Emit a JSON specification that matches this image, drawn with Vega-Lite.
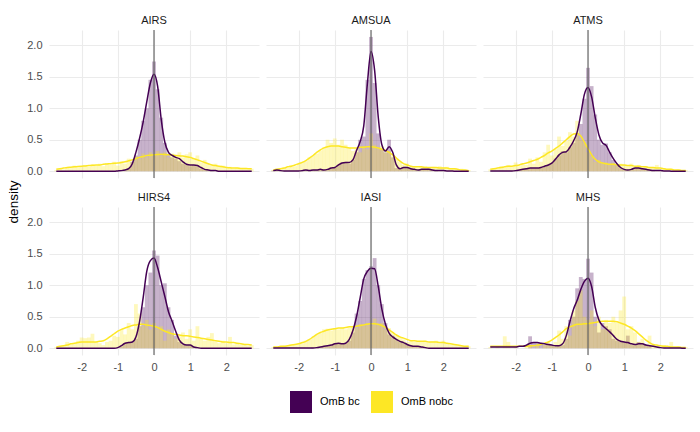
{
  "$schema": "https://vega.github.io/schema/vega-lite/v6.json",
  "padding": {"left": 7, "top": 15, "right": 5, "bottom": 5},
  "title": {"text": "density", "orient": "left", "anchor": "middle", "fontSize": 13.5, "fontWeight": "normal", "color": "#000000", "offset": 6, "dx": 12},
  "data": {"values": [
{"p":"AIRS","x":-2.7,"h1":0,"h2":0.02,"d1":0,"d2":0.03},
{"p":"AIRS","x":-2.6,"h1":0,"h2":0.04,"d1":0,"d2":0.04},
{"p":"AIRS","x":-2.5,"h1":0,"h2":0.03,"d1":0,"d2":0.05},
{"p":"AIRS","x":-2.4,"h1":0,"h2":0.06,"d1":0,"d2":0.06},
{"p":"AIRS","x":-2.3,"h1":0,"h2":0.05,"d1":0,"d2":0.065},
{"p":"AIRS","x":-2.2,"h1":0,"h2":0.09,"d1":0,"d2":0.07},
{"p":"AIRS","x":-2.1,"h1":0,"h2":0.06,"d1":0,"d2":0.075},
{"p":"AIRS","x":-2.0,"h1":0,"h2":0.08,"d1":0,"d2":0.08},
{"p":"AIRS","x":-1.9,"h1":0,"h2":0.1,"d1":0,"d2":0.085},
{"p":"AIRS","x":-1.8,"h1":0,"h2":0.07,"d1":0,"d2":0.09},
{"p":"AIRS","x":-1.7,"h1":0,"h2":0.11,"d1":0,"d2":0.095},
{"p":"AIRS","x":-1.6,"h1":0,"h2":0.09,"d1":0,"d2":0.1},
{"p":"AIRS","x":-1.5,"h1":0,"h2":0.12,"d1":0,"d2":0.1},
{"p":"AIRS","x":-1.4,"h1":0,"h2":0.08,"d1":0,"d2":0.11},
{"p":"AIRS","x":-1.3,"h1":0,"h2":0.13,"d1":0,"d2":0.115},
{"p":"AIRS","x":-1.2,"h1":0,"h2":0.1,"d1":0,"d2":0.12},
{"p":"AIRS","x":-1.1,"h1":0,"h2":0.15,"d1":0,"d2":0.125},
{"p":"AIRS","x":-1.0,"h1":0,"h2":0.09,"d1":0.005,"d2":0.13},
{"p":"AIRS","x":-0.9,"h1":0,"h2":0.16,"d1":0.01,"d2":0.14},
{"p":"AIRS","x":-0.8,"h1":0.01,"h2":0.12,"d1":0.02,"d2":0.15},
{"p":"AIRS","x":-0.7,"h1":0.05,"h2":0.2,"d1":0.04,"d2":0.165},
{"p":"AIRS","x":-0.6,"h1":0.15,"h2":0.15,"d1":0.12,"d2":0.18},
{"p":"AIRS","x":-0.5,"h1":0.25,"h2":0.24,"d1":0.3,"d2":0.2},
{"p":"AIRS","x":-0.4,"h1":0.5,"h2":0.2,"d1":0.52,"d2":0.22},
{"p":"AIRS","x":-0.3,"h1":0.8,"h2":0.28,"d1":0.78,"d2":0.235},
{"p":"AIRS","x":-0.2,"h1":1.0,"h2":0.22,"d1":1.1,"d2":0.25},
{"p":"AIRS","x":-0.1,"h1":1.45,"h2":0.3,"d1":1.4,"d2":0.255},
{"p":"AIRS","x":0.0,"h1":1.74,"h2":0.24,"d1":1.54,"d2":0.26},
{"p":"AIRS","x":0.1,"h1":1.3,"h2":0.32,"d1":1.35,"d2":0.265},
{"p":"AIRS","x":0.2,"h1":0.85,"h2":0.25,"d1":0.82,"d2":0.27},
{"p":"AIRS","x":0.3,"h1":0.45,"h2":0.3,"d1":0.46,"d2":0.265},
{"p":"AIRS","x":0.4,"h1":0.28,"h2":0.22,"d1":0.3,"d2":0.26},
{"p":"AIRS","x":0.5,"h1":0.22,"h2":0.28,"d1":0.25,"d2":0.255},
{"p":"AIRS","x":0.6,"h1":0.2,"h2":0.24,"d1":0.22,"d2":0.25},
{"p":"AIRS","x":0.7,"h1":0.16,"h2":0.3,"d1":0.2,"d2":0.245},
{"p":"AIRS","x":0.8,"h1":0.12,"h2":0.22,"d1":0.15,"d2":0.24},
{"p":"AIRS","x":0.9,"h1":0.1,"h2":0.27,"d1":0.11,"d2":0.23},
{"p":"AIRS","x":1.0,"h1":0.08,"h2":0.3,"d1":0.1,"d2":0.22},
{"p":"AIRS","x":1.1,"h1":0.1,"h2":0.2,"d1":0.1,"d2":0.2},
{"p":"AIRS","x":1.2,"h1":0.08,"h2":0.25,"d1":0.09,"d2":0.18},
{"p":"AIRS","x":1.3,"h1":0.04,"h2":0.14,"d1":0.06,"d2":0.16},
{"p":"AIRS","x":1.4,"h1":0.02,"h2":0.18,"d1":0.03,"d2":0.14},
{"p":"AIRS","x":1.5,"h1":0.02,"h2":0.12,"d1":0.02,"d2":0.12},
{"p":"AIRS","x":1.6,"h1":0.01,"h2":0.1,"d1":0.01,"d2":0.1},
{"p":"AIRS","x":1.7,"h1":0,"h2":0.12,"d1":0.01,"d2":0.09},
{"p":"AIRS","x":1.8,"h1":0,"h2":0.07,"d1":0,"d2":0.08},
{"p":"AIRS","x":1.9,"h1":0,"h2":0.09,"d1":0,"d2":0.07},
{"p":"AIRS","x":2.0,"h1":0,"h2":0.05,"d1":0,"d2":0.06},
{"p":"AIRS","x":2.1,"h1":0,"h2":0.07,"d1":0,"d2":0.055},
{"p":"AIRS","x":2.2,"h1":0,"h2":0.04,"d1":0,"d2":0.05},
{"p":"AIRS","x":2.3,"h1":0,"h2":0.06,"d1":0,"d2":0.05},
{"p":"AIRS","x":2.4,"h1":0,"h2":0.04,"d1":0,"d2":0.045},
{"p":"AIRS","x":2.5,"h1":0,"h2":0.05,"d1":0,"d2":0.045},
{"p":"AIRS","x":2.6,"h1":0,"h2":0.03,"d1":0,"d2":0.04},
{"p":"AIRS","x":2.7,"h1":0,"h2":0.04,"d1":0,"d2":0.04},
{"p":"AMSUA","x":-2.7,"h1":0.01,"h2":0.02,"d1":0.01,"d2":0.02},
{"p":"AMSUA","x":-2.6,"h1":0.02,"h2":0.04,"d1":0.02,"d2":0.03},
{"p":"AMSUA","x":-2.5,"h1":0,"h2":0.03,"d1":0.01,"d2":0.04},
{"p":"AMSUA","x":-2.4,"h1":0,"h2":0.06,"d1":0.005,"d2":0.05},
{"p":"AMSUA","x":-2.3,"h1":0,"h2":0.05,"d1":0.005,"d2":0.07},
{"p":"AMSUA","x":-2.2,"h1":0,"h2":0.1,"d1":0.005,"d2":0.08},
{"p":"AMSUA","x":-2.1,"h1":0,"h2":0.08,"d1":0.005,"d2":0.1},
{"p":"AMSUA","x":-2.0,"h1":0,"h2":0.12,"d1":0.005,"d2":0.12},
{"p":"AMSUA","x":-1.9,"h1":0.01,"h2":0.15,"d1":0.01,"d2":0.14},
{"p":"AMSUA","x":-1.8,"h1":0.02,"h2":0.16,"d1":0.02,"d2":0.17},
{"p":"AMSUA","x":-1.7,"h1":0.01,"h2":0.22,"d1":0.01,"d2":0.21},
{"p":"AMSUA","x":-1.6,"h1":0.02,"h2":0.25,"d1":0.02,"d2":0.25},
{"p":"AMSUA","x":-1.5,"h1":0.02,"h2":0.28,"d1":0.02,"d2":0.3},
{"p":"AMSUA","x":-1.4,"h1":0.03,"h2":0.33,"d1":0.03,"d2":0.34},
{"p":"AMSUA","x":-1.3,"h1":0.02,"h2":0.38,"d1":0.02,"d2":0.37},
{"p":"AMSUA","x":-1.2,"h1":0.03,"h2":0.5,"d1":0.03,"d2":0.39},
{"p":"AMSUA","x":-1.1,"h1":0.06,"h2":0.45,"d1":0.05,"d2":0.4},
{"p":"AMSUA","x":-1.0,"h1":0.06,"h2":0.52,"d1":0.06,"d2":0.4},
{"p":"AMSUA","x":-0.9,"h1":0.1,"h2":0.42,"d1":0.1,"d2":0.4},
{"p":"AMSUA","x":-0.8,"h1":0.14,"h2":0.5,"d1":0.13,"d2":0.39},
{"p":"AMSUA","x":-0.7,"h1":0.15,"h2":0.42,"d1":0.14,"d2":0.38},
{"p":"AMSUA","x":-0.6,"h1":0.12,"h2":0.38,"d1":0.14,"d2":0.37},
{"p":"AMSUA","x":-0.5,"h1":0.18,"h2":0.32,"d1":0.18,"d2":0.37},
{"p":"AMSUA","x":-0.4,"h1":0.3,"h2":0.36,"d1":0.33,"d2":0.37},
{"p":"AMSUA","x":-0.3,"h1":0.5,"h2":0.3,"d1":0.47,"d2":0.38},
{"p":"AMSUA","x":-0.2,"h1":0.55,"h2":0.4,"d1":0.72,"d2":0.38},
{"p":"AMSUA","x":-0.1,"h1":1.45,"h2":0.35,"d1":1.39,"d2":0.39},
{"p":"AMSUA","x":0.0,"h1":2.13,"h2":0.6,"d1":1.9,"d2":0.39},
{"p":"AMSUA","x":0.1,"h1":1.4,"h2":0.42,"d1":1.6,"d2":0.38},
{"p":"AMSUA","x":0.2,"h1":0.6,"h2":0.35,"d1":0.86,"d2":0.37},
{"p":"AMSUA","x":0.3,"h1":0.35,"h2":0.4,"d1":0.42,"d2":0.35},
{"p":"AMSUA","x":0.4,"h1":0.3,"h2":0.3,"d1":0.32,"d2":0.33},
{"p":"AMSUA","x":0.5,"h1":0.5,"h2":0.32,"d1":0.39,"d2":0.3},
{"p":"AMSUA","x":0.6,"h1":0.22,"h2":0.25,"d1":0.3,"d2":0.26},
{"p":"AMSUA","x":0.7,"h1":0.05,"h2":0.2,"d1":0.1,"d2":0.21},
{"p":"AMSUA","x":0.8,"h1":0.04,"h2":0.15,"d1":0.04,"d2":0.16},
{"p":"AMSUA","x":0.9,"h1":0.07,"h2":0.1,"d1":0.06,"d2":0.12},
{"p":"AMSUA","x":1.0,"h1":0.06,"h2":0.12,"d1":0.06,"d2":0.1},
{"p":"AMSUA","x":1.1,"h1":0.04,"h2":0.07,"d1":0.04,"d2":0.08},
{"p":"AMSUA","x":1.2,"h1":0.02,"h2":0.08,"d1":0.03,"d2":0.07},
{"p":"AMSUA","x":1.3,"h1":0.02,"h2":0.06,"d1":0.02,"d2":0.07},
{"p":"AMSUA","x":1.4,"h1":0.03,"h2":0.07,"d1":0.03,"d2":0.07},
{"p":"AMSUA","x":1.5,"h1":0.03,"h2":0.08,"d1":0.03,"d2":0.06},
{"p":"AMSUA","x":1.6,"h1":0.04,"h2":0.05,"d1":0.03,"d2":0.06},
{"p":"AMSUA","x":1.7,"h1":0.02,"h2":0.07,"d1":0.02,"d2":0.06},
{"p":"AMSUA","x":1.8,"h1":0.01,"h2":0.06,"d1":0.01,"d2":0.06},
{"p":"AMSUA","x":1.9,"h1":0,"h2":0.08,"d1":0.01,"d2":0.05},
{"p":"AMSUA","x":2.0,"h1":0,"h2":0.06,"d1":0.01,"d2":0.05},
{"p":"AMSUA","x":2.1,"h1":0,"h2":0.07,"d1":0.005,"d2":0.05},
{"p":"AMSUA","x":2.2,"h1":0,"h2":0.04,"d1":0.005,"d2":0.04},
{"p":"AMSUA","x":2.3,"h1":0,"h2":0.05,"d1":0,"d2":0.04},
{"p":"AMSUA","x":2.4,"h1":0,"h2":0.03,"d1":0,"d2":0.03},
{"p":"AMSUA","x":2.5,"h1":0,"h2":0.04,"d1":0,"d2":0.02},
{"p":"AMSUA","x":2.6,"h1":0,"h2":0.02,"d1":0,"d2":0.02},
{"p":"AMSUA","x":2.7,"h1":0,"h2":0.02,"d1":0,"d2":0.01},
{"p":"ATMS","x":-2.7,"h1":0,"h2":0.03,"d1":0.005,"d2":0.03},
{"p":"ATMS","x":-2.6,"h1":0,"h2":0.05,"d1":0.005,"d2":0.04},
{"p":"ATMS","x":-2.5,"h1":0,"h2":0.04,"d1":0.005,"d2":0.05},
{"p":"ATMS","x":-2.4,"h1":0,"h2":0.08,"d1":0.005,"d2":0.06},
{"p":"ATMS","x":-2.3,"h1":0,"h2":0.06,"d1":0.005,"d2":0.07},
{"p":"ATMS","x":-2.2,"h1":0,"h2":0.1,"d1":0.005,"d2":0.08},
{"p":"ATMS","x":-2.1,"h1":0,"h2":0.07,"d1":0.005,"d2":0.08},
{"p":"ATMS","x":-2.0,"h1":0.01,"h2":0.14,"d1":0.01,"d2":0.09},
{"p":"ATMS","x":-1.9,"h1":0.02,"h2":0.08,"d1":0.02,"d2":0.1},
{"p":"ATMS","x":-1.8,"h1":0.03,"h2":0.12,"d1":0.03,"d2":0.12},
{"p":"ATMS","x":-1.7,"h1":0.04,"h2":0.1,"d1":0.04,"d2":0.13},
{"p":"ATMS","x":-1.6,"h1":0.05,"h2":0.2,"d1":0.05,"d2":0.15},
{"p":"ATMS","x":-1.5,"h1":0.05,"h2":0.12,"d1":0.05,"d2":0.17},
{"p":"ATMS","x":-1.4,"h1":0.05,"h2":0.22,"d1":0.05,"d2":0.19},
{"p":"ATMS","x":-1.3,"h1":0.06,"h2":0.15,"d1":0.06,"d2":0.22},
{"p":"ATMS","x":-1.2,"h1":0.08,"h2":0.3,"d1":0.08,"d2":0.25},
{"p":"ATMS","x":-1.1,"h1":0.1,"h2":0.42,"d1":0.1,"d2":0.29},
{"p":"ATMS","x":-1.0,"h1":0.13,"h2":0.25,"d1":0.13,"d2":0.32},
{"p":"ATMS","x":-0.9,"h1":0.2,"h2":0.35,"d1":0.19,"d2":0.36},
{"p":"ATMS","x":-0.8,"h1":0.25,"h2":0.55,"d1":0.26,"d2":0.4},
{"p":"ATMS","x":-0.7,"h1":0.32,"h2":0.4,"d1":0.3,"d2":0.45},
{"p":"ATMS","x":-0.6,"h1":0.3,"h2":0.48,"d1":0.31,"d2":0.5},
{"p":"ATMS","x":-0.5,"h1":0.38,"h2":0.62,"d1":0.38,"d2":0.55},
{"p":"ATMS","x":-0.4,"h1":0.45,"h2":0.55,"d1":0.48,"d2":0.59},
{"p":"ATMS","x":-0.3,"h1":0.6,"h2":0.8,"d1":0.62,"d2":0.6},
{"p":"ATMS","x":-0.2,"h1":0.75,"h2":0.5,"d1":0.9,"d2":0.56},
{"p":"ATMS","x":-0.1,"h1":1.15,"h2":0.45,"d1":1.22,"d2":0.46},
{"p":"ATMS","x":0.0,"h1":1.64,"h2":0.3,"d1":1.33,"d2":0.36},
{"p":"ATMS","x":0.1,"h1":1.35,"h2":0.25,"d1":1.18,"d2":0.26},
{"p":"ATMS","x":0.2,"h1":0.9,"h2":0.15,"d1":0.85,"d2":0.19},
{"p":"ATMS","x":0.3,"h1":0.5,"h2":0.18,"d1":0.58,"d2":0.15},
{"p":"ATMS","x":0.4,"h1":0.42,"h2":0.12,"d1":0.45,"d2":0.13},
{"p":"ATMS","x":0.5,"h1":0.44,"h2":0.14,"d1":0.41,"d2":0.12},
{"p":"ATMS","x":0.6,"h1":0.3,"h2":0.1,"d1":0.3,"d2":0.11},
{"p":"ATMS","x":0.7,"h1":0.18,"h2":0.13,"d1":0.2,"d2":0.11},
{"p":"ATMS","x":0.8,"h1":0.1,"h2":0.09,"d1":0.12,"d2":0.1},
{"p":"ATMS","x":0.9,"h1":0.05,"h2":0.12,"d1":0.06,"d2":0.1},
{"p":"ATMS","x":1.0,"h1":0.03,"h2":0.1,"d1":0.03,"d2":0.1},
{"p":"ATMS","x":1.1,"h1":0.02,"h2":0.08,"d1":0.02,"d2":0.09},
{"p":"ATMS","x":1.2,"h1":0.03,"h2":0.12,"d1":0.03,"d2":0.09},
{"p":"ATMS","x":1.3,"h1":0.05,"h2":0.07,"d1":0.05,"d2":0.08},
{"p":"ATMS","x":1.4,"h1":0.05,"h2":0.1,"d1":0.05,"d2":0.08},
{"p":"ATMS","x":1.5,"h1":0.04,"h2":0.06,"d1":0.04,"d2":0.07},
{"p":"ATMS","x":1.6,"h1":0.03,"h2":0.08,"d1":0.03,"d2":0.07},
{"p":"ATMS","x":1.7,"h1":0.02,"h2":0.05,"d1":0.02,"d2":0.06},
{"p":"ATMS","x":1.8,"h1":0.01,"h2":0.06,"d1":0.01,"d2":0.06},
{"p":"ATMS","x":1.9,"h1":0,"h2":0.1,"d1":0.01,"d2":0.05},
{"p":"ATMS","x":2.0,"h1":0,"h2":0.04,"d1":0.01,"d2":0.05},
{"p":"ATMS","x":2.1,"h1":0,"h2":0.05,"d1":0.005,"d2":0.04},
{"p":"ATMS","x":2.2,"h1":0,"h2":0.03,"d1":0.005,"d2":0.03},
{"p":"ATMS","x":2.3,"h1":0,"h2":0.04,"d1":0,"d2":0.03},
{"p":"ATMS","x":2.4,"h1":0,"h2":0.02,"d1":0,"d2":0.02},
{"p":"ATMS","x":2.5,"h1":0,"h2":0.03,"d1":0,"d2":0.02},
{"p":"ATMS","x":2.6,"h1":0,"h2":0.01,"d1":0,"d2":0.01},
{"p":"ATMS","x":2.7,"h1":0,"h2":0.02,"d1":0,"d2":0.01},
{"p":"HIRS4","x":-2.7,"h1":0,"h2":0.02,"d1":0,"d2":0.02},
{"p":"HIRS4","x":-2.6,"h1":0,"h2":0.03,"d1":0,"d2":0.03},
{"p":"HIRS4","x":-2.5,"h1":0,"h2":0.05,"d1":0,"d2":0.04},
{"p":"HIRS4","x":-2.4,"h1":0,"h2":0.1,"d1":0,"d2":0.05},
{"p":"HIRS4","x":-2.3,"h1":0,"h2":0.06,"d1":0,"d2":0.07},
{"p":"HIRS4","x":-2.2,"h1":0,"h2":0.08,"d1":0,"d2":0.08},
{"p":"HIRS4","x":-2.1,"h1":0,"h2":0.12,"d1":0,"d2":0.09},
{"p":"HIRS4","x":-2.0,"h1":0,"h2":0.17,"d1":0,"d2":0.1},
{"p":"HIRS4","x":-1.9,"h1":0,"h2":0.16,"d1":0,"d2":0.1},
{"p":"HIRS4","x":-1.8,"h1":0,"h2":0.17,"d1":0,"d2":0.1},
{"p":"HIRS4","x":-1.7,"h1":0,"h2":0.23,"d1":0,"d2":0.1},
{"p":"HIRS4","x":-1.6,"h1":0,"h2":0.1,"d1":0,"d2":0.1},
{"p":"HIRS4","x":-1.5,"h1":0,"h2":0.08,"d1":0,"d2":0.11},
{"p":"HIRS4","x":-1.4,"h1":0,"h2":0.05,"d1":0,"d2":0.12},
{"p":"HIRS4","x":-1.3,"h1":0,"h2":0.1,"d1":0,"d2":0.15},
{"p":"HIRS4","x":-1.2,"h1":0,"h2":0.12,"d1":0,"d2":0.19},
{"p":"HIRS4","x":-1.1,"h1":0,"h2":0.2,"d1":0,"d2":0.23},
{"p":"HIRS4","x":-1.0,"h1":0,"h2":0.18,"d1":0.01,"d2":0.27},
{"p":"HIRS4","x":-0.9,"h1":0.03,"h2":0.3,"d1":0.04,"d2":0.3},
{"p":"HIRS4","x":-0.8,"h1":0.08,"h2":0.22,"d1":0.08,"d2":0.32},
{"p":"HIRS4","x":-0.7,"h1":0.1,"h2":0.4,"d1":0.09,"d2":0.34},
{"p":"HIRS4","x":-0.6,"h1":0.1,"h2":0.3,"d1":0.1,"d2":0.36},
{"p":"HIRS4","x":-0.5,"h1":0.15,"h2":0.7,"d1":0.18,"d2":0.37},
{"p":"HIRS4","x":-0.4,"h1":0.35,"h2":0.55,"d1":0.42,"d2":0.38},
{"p":"HIRS4","x":-0.3,"h1":0.65,"h2":0.35,"d1":0.8,"d2":0.38},
{"p":"HIRS4","x":-0.2,"h1":1.0,"h2":0.45,"d1":1.22,"d2":0.37},
{"p":"HIRS4","x":-0.1,"h1":1.2,"h2":0.3,"d1":1.39,"d2":0.36},
{"p":"HIRS4","x":0.0,"h1":1.55,"h2":0.4,"d1":1.43,"d2":0.35},
{"p":"HIRS4","x":0.1,"h1":1.47,"h2":0.3,"d1":1.28,"d2":0.33},
{"p":"HIRS4","x":0.2,"h1":1.0,"h2":0.35,"d1":1.05,"d2":0.3},
{"p":"HIRS4","x":0.3,"h1":1.03,"h2":0.12,"d1":0.82,"d2":0.27},
{"p":"HIRS4","x":0.4,"h1":0.65,"h2":0.3,"d1":0.58,"d2":0.25},
{"p":"HIRS4","x":0.5,"h1":0.45,"h2":0.22,"d1":0.43,"d2":0.23},
{"p":"HIRS4","x":0.6,"h1":0.2,"h2":0.15,"d1":0.27,"d2":0.22},
{"p":"HIRS4","x":0.7,"h1":0.1,"h2":0.2,"d1":0.13,"d2":0.21},
{"p":"HIRS4","x":0.8,"h1":0.06,"h2":0.25,"d1":0.07,"d2":0.2},
{"p":"HIRS4","x":0.9,"h1":0.05,"h2":0.15,"d1":0.05,"d2":0.2},
{"p":"HIRS4","x":1.0,"h1":0.05,"h2":0.3,"d1":0.05,"d2":0.19},
{"p":"HIRS4","x":1.1,"h1":0.02,"h2":0.12,"d1":0.02,"d2":0.18},
{"p":"HIRS4","x":1.2,"h1":0.01,"h2":0.35,"d1":0.01,"d2":0.17},
{"p":"HIRS4","x":1.3,"h1":0,"h2":0.15,"d1":0,"d2":0.16},
{"p":"HIRS4","x":1.4,"h1":0,"h2":0.12,"d1":0,"d2":0.15},
{"p":"HIRS4","x":1.5,"h1":0,"h2":0.18,"d1":0,"d2":0.14},
{"p":"HIRS4","x":1.6,"h1":0,"h2":0.24,"d1":0,"d2":0.13},
{"p":"HIRS4","x":1.7,"h1":0,"h2":0.1,"d1":0,"d2":0.12},
{"p":"HIRS4","x":1.8,"h1":0,"h2":0.08,"d1":0,"d2":0.11},
{"p":"HIRS4","x":1.9,"h1":0,"h2":0.12,"d1":0,"d2":0.1},
{"p":"HIRS4","x":2.0,"h1":0,"h2":0.08,"d1":0,"d2":0.1},
{"p":"HIRS4","x":2.1,"h1":0,"h2":0.18,"d1":0,"d2":0.09},
{"p":"HIRS4","x":2.2,"h1":0,"h2":0.06,"d1":0,"d2":0.09},
{"p":"HIRS4","x":2.3,"h1":0,"h2":0.08,"d1":0,"d2":0.08},
{"p":"HIRS4","x":2.4,"h1":0,"h2":0.05,"d1":0,"d2":0.07},
{"p":"HIRS4","x":2.5,"h1":0,"h2":0.07,"d1":0,"d2":0.06},
{"p":"HIRS4","x":2.6,"h1":0,"h2":0.04,"d1":0,"d2":0.06},
{"p":"HIRS4","x":2.7,"h1":0,"h2":0.05,"d1":0,"d2":0.05},
{"p":"IASI","x":-2.7,"h1":0,"h2":0.02,"d1":0.005,"d2":0.02},
{"p":"IASI","x":-2.6,"h1":0,"h2":0.02,"d1":0.005,"d2":0.02},
{"p":"IASI","x":-2.5,"h1":0,"h2":0.03,"d1":0.005,"d2":0.03},
{"p":"IASI","x":-2.4,"h1":0,"h2":0.04,"d1":0.005,"d2":0.03},
{"p":"IASI","x":-2.3,"h1":0,"h2":0.04,"d1":0.005,"d2":0.04},
{"p":"IASI","x":-2.2,"h1":0,"h2":0.06,"d1":0.005,"d2":0.05},
{"p":"IASI","x":-2.1,"h1":0,"h2":0.05,"d1":0.005,"d2":0.06},
{"p":"IASI","x":-2.0,"h1":0,"h2":0.08,"d1":0.005,"d2":0.07},
{"p":"IASI","x":-1.9,"h1":0,"h2":0.08,"d1":0.005,"d2":0.09},
{"p":"IASI","x":-1.8,"h1":0,"h2":0.12,"d1":0.005,"d2":0.11},
{"p":"IASI","x":-1.7,"h1":0,"h2":0.14,"d1":0.005,"d2":0.14},
{"p":"IASI","x":-1.6,"h1":0.01,"h2":0.18,"d1":0.005,"d2":0.18},
{"p":"IASI","x":-1.5,"h1":0.01,"h2":0.22,"d1":0.01,"d2":0.22},
{"p":"IASI","x":-1.4,"h1":0.02,"h2":0.24,"d1":0.02,"d2":0.25},
{"p":"IASI","x":-1.3,"h1":0.03,"h2":0.3,"d1":0.03,"d2":0.27},
{"p":"IASI","x":-1.2,"h1":0.04,"h2":0.31,"d1":0.04,"d2":0.29},
{"p":"IASI","x":-1.1,"h1":0.05,"h2":0.28,"d1":0.05,"d2":0.3},
{"p":"IASI","x":-1.0,"h1":0.07,"h2":0.32,"d1":0.07,"d2":0.31},
{"p":"IASI","x":-0.9,"h1":0.08,"h2":0.3,"d1":0.08,"d2":0.32},
{"p":"IASI","x":-0.8,"h1":0.07,"h2":0.33,"d1":0.07,"d2":0.32},
{"p":"IASI","x":-0.7,"h1":0.08,"h2":0.3,"d1":0.08,"d2":0.33},
{"p":"IASI","x":-0.6,"h1":0.12,"h2":0.33,"d1":0.14,"d2":0.34},
{"p":"IASI","x":-0.5,"h1":0.25,"h2":0.35,"d1":0.28,"d2":0.34},
{"p":"IASI","x":-0.4,"h1":0.55,"h2":0.32,"d1":0.5,"d2":0.35},
{"p":"IASI","x":-0.3,"h1":0.75,"h2":0.38,"d1":0.8,"d2":0.36},
{"p":"IASI","x":-0.2,"h1":1.1,"h2":0.35,"d1":1.1,"d2":0.37},
{"p":"IASI","x":-0.1,"h1":1.24,"h2":0.4,"d1":1.22,"d2":0.38},
{"p":"IASI","x":0.0,"h1":1.3,"h2":0.36,"d1":1.27,"d2":0.39},
{"p":"IASI","x":0.1,"h1":1.43,"h2":0.47,"d1":1.26,"d2":0.39},
{"p":"IASI","x":0.2,"h1":1.0,"h2":0.38,"d1":0.98,"d2":0.38},
{"p":"IASI","x":0.3,"h1":0.7,"h2":0.4,"d1":0.62,"d2":0.36},
{"p":"IASI","x":0.4,"h1":0.4,"h2":0.3,"d1":0.38,"d2":0.33},
{"p":"IASI","x":0.5,"h1":0.22,"h2":0.32,"d1":0.24,"d2":0.29},
{"p":"IASI","x":0.6,"h1":0.2,"h2":0.25,"d1":0.18,"d2":0.25},
{"p":"IASI","x":0.7,"h1":0.13,"h2":0.2,"d1":0.14,"d2":0.21},
{"p":"IASI","x":0.8,"h1":0.1,"h2":0.18,"d1":0.11,"d2":0.18},
{"p":"IASI","x":0.9,"h1":0.09,"h2":0.14,"d1":0.09,"d2":0.16},
{"p":"IASI","x":1.0,"h1":0.06,"h2":0.1,"d1":0.06,"d2":0.14},
{"p":"IASI","x":1.1,"h1":0.04,"h2":0.12,"d1":0.04,"d2":0.12},
{"p":"IASI","x":1.2,"h1":0.03,"h2":0.1,"d1":0.03,"d2":0.12},
{"p":"IASI","x":1.3,"h1":0.03,"h2":0.12,"d1":0.03,"d2":0.11},
{"p":"IASI","x":1.4,"h1":0.02,"h2":0.1,"d1":0.02,"d2":0.11},
{"p":"IASI","x":1.5,"h1":0.01,"h2":0.12,"d1":0.01,"d2":0.11},
{"p":"IASI","x":1.6,"h1":0,"h2":0.1,"d1":0,"d2":0.1},
{"p":"IASI","x":1.7,"h1":0,"h2":0.11,"d1":0,"d2":0.1},
{"p":"IASI","x":1.8,"h1":0,"h2":0.12,"d1":0,"d2":0.1},
{"p":"IASI","x":1.9,"h1":0,"h2":0.08,"d1":0,"d2":0.09},
{"p":"IASI","x":2.0,"h1":0,"h2":0.12,"d1":0,"d2":0.09},
{"p":"IASI","x":2.1,"h1":0,"h2":0.07,"d1":0,"d2":0.08},
{"p":"IASI","x":2.2,"h1":0,"h2":0.06,"d1":0,"d2":0.07},
{"p":"IASI","x":2.3,"h1":0,"h2":0.05,"d1":0,"d2":0.06},
{"p":"IASI","x":2.4,"h1":0,"h2":0.05,"d1":0,"d2":0.05},
{"p":"IASI","x":2.5,"h1":0,"h2":0.04,"d1":0,"d2":0.04},
{"p":"IASI","x":2.6,"h1":0,"h2":0.03,"d1":0,"d2":0.03},
{"p":"IASI","x":2.7,"h1":0,"h2":0.03,"d1":0,"d2":0.03},
{"p":"MHS","x":-2.7,"h1":0,"h2":0.02,"d1":0.02,"d2":0.03},
{"p":"MHS","x":-2.6,"h1":0,"h2":0,"d1":0.02,"d2":0.03},
{"p":"MHS","x":-2.5,"h1":0,"h2":0.03,"d1":0.02,"d2":0.03},
{"p":"MHS","x":-2.4,"h1":0,"h2":0,"d1":0.02,"d2":0.03},
{"p":"MHS","x":-2.3,"h1":0,"h2":0.19,"d1":0.02,"d2":0.03},
{"p":"MHS","x":-2.2,"h1":0,"h2":0.1,"d1":0.02,"d2":0.03},
{"p":"MHS","x":-2.1,"h1":0,"h2":0,"d1":0.02,"d2":0.03},
{"p":"MHS","x":-2.0,"h1":0,"h2":0.03,"d1":0.02,"d2":0.03},
{"p":"MHS","x":-1.9,"h1":0,"h2":0,"d1":0.03,"d2":0.03},
{"p":"MHS","x":-1.8,"h1":0,"h2":0,"d1":0.03,"d2":0.03},
{"p":"MHS","x":-1.7,"h1":0,"h2":0.05,"d1":0.05,"d2":0.03},
{"p":"MHS","x":-1.6,"h1":0.19,"h2":0.05,"d1":0.08,"d2":0.04},
{"p":"MHS","x":-1.5,"h1":0.1,"h2":0,"d1":0.09,"d2":0.04},
{"p":"MHS","x":-1.4,"h1":0.08,"h2":0.05,"d1":0.09,"d2":0.05},
{"p":"MHS","x":-1.3,"h1":0.08,"h2":0,"d1":0.08,"d2":0.06},
{"p":"MHS","x":-1.2,"h1":0.05,"h2":0.05,"d1":0.07,"d2":0.08},
{"p":"MHS","x":-1.1,"h1":0.05,"h2":0.1,"d1":0.06,"d2":0.1},
{"p":"MHS","x":-1.0,"h1":0.05,"h2":0.05,"d1":0.05,"d2":0.13},
{"p":"MHS","x":-0.9,"h1":0.03,"h2":0.1,"d1":0.04,"d2":0.17},
{"p":"MHS","x":-0.8,"h1":0.05,"h2":0.28,"d1":0.04,"d2":0.21},
{"p":"MHS","x":-0.7,"h1":0.05,"h2":0.15,"d1":0.07,"d2":0.26},
{"p":"MHS","x":-0.6,"h1":0.15,"h2":0.35,"d1":0.2,"d2":0.31},
{"p":"MHS","x":-0.5,"h1":0.45,"h2":0.2,"d1":0.42,"d2":0.34},
{"p":"MHS","x":-0.4,"h1":0.5,"h2":0.6,"d1":0.62,"d2":0.36},
{"p":"MHS","x":-0.3,"h1":0.95,"h2":0.75,"d1":0.76,"d2":0.38},
{"p":"MHS","x":-0.2,"h1":1.13,"h2":0.92,"d1":0.93,"d2":0.38},
{"p":"MHS","x":-0.1,"h1":1.1,"h2":0.5,"d1":1.06,"d2":0.39},
{"p":"MHS","x":0.0,"h1":1.42,"h2":0.45,"d1":1.11,"d2":0.39},
{"p":"MHS","x":0.1,"h1":1.2,"h2":0.6,"d1":0.98,"d2":0.4},
{"p":"MHS","x":0.2,"h1":0.5,"h2":0.35,"d1":0.65,"d2":0.41},
{"p":"MHS","x":0.3,"h1":0.25,"h2":0.5,"d1":0.45,"d2":0.42},
{"p":"MHS","x":0.4,"h1":0.4,"h2":0.3,"d1":0.36,"d2":0.43},
{"p":"MHS","x":0.5,"h1":0.35,"h2":0.45,"d1":0.31,"d2":0.43},
{"p":"MHS","x":0.6,"h1":0.3,"h2":0.4,"d1":0.26,"d2":0.43},
{"p":"MHS","x":0.7,"h1":0.15,"h2":0.5,"d1":0.2,"d2":0.43},
{"p":"MHS","x":0.8,"h1":0.12,"h2":0.4,"d1":0.14,"d2":0.42},
{"p":"MHS","x":0.9,"h1":0.1,"h2":0.6,"d1":0.11,"d2":0.4},
{"p":"MHS","x":1.0,"h1":0.1,"h2":0.82,"d1":0.1,"d2":0.38},
{"p":"MHS","x":1.1,"h1":0.2,"h2":0.3,"d1":0.09,"d2":0.35},
{"p":"MHS","x":1.2,"h1":0.05,"h2":0.35,"d1":0.07,"d2":0.32},
{"p":"MHS","x":1.3,"h1":0.05,"h2":0.25,"d1":0.06,"d2":0.28},
{"p":"MHS","x":1.4,"h1":0.1,"h2":0.1,"d1":0.07,"d2":0.23},
{"p":"MHS","x":1.5,"h1":0.08,"h2":0.15,"d1":0.07,"d2":0.18},
{"p":"MHS","x":1.6,"h1":0.05,"h2":0.05,"d1":0.05,"d2":0.13},
{"p":"MHS","x":1.7,"h1":0.03,"h2":0.2,"d1":0.04,"d2":0.09},
{"p":"MHS","x":1.8,"h1":0,"h2":0.05,"d1":0.03,"d2":0.06},
{"p":"MHS","x":1.9,"h1":0,"h2":0.03,"d1":0.02,"d2":0.05},
{"p":"MHS","x":2.0,"h1":0,"h2":0,"d1":0.01,"d2":0.04},
{"p":"MHS","x":2.1,"h1":0,"h2":0.05,"d1":0.005,"d2":0.03},
{"p":"MHS","x":2.2,"h1":0,"h2":0,"d1":0.005,"d2":0.03},
{"p":"MHS","x":2.3,"h1":0,"h2":0.1,"d1":0.005,"d2":0.02},
{"p":"MHS","x":2.4,"h1":0,"h2":0,"d1":0.005,"d2":0.02},
{"p":"MHS","x":2.5,"h1":0,"h2":0.03,"d1":0.005,"d2":0.02},
{"p":"MHS","x":2.6,"h1":0,"h2":0,"d1":0,"d2":0.01},
{"p":"MHS","x":2.7,"h1":0,"h2":0.02,"d1":0,"d2":0.01}
  ]},
  "facet": {
    "field": "p",
    "type": "nominal",
    "sort": ["AIRS", "AMSUA", "ATMS", "HIRS4", "IASI", "MHS"],
    "header": {"title": null, "labelFontSize": 11, "labelColor": "#1a1a1a", "labelPadding": 3}
  },
  "columns": 3,
  "spacing": {"row": 13, "column": 7},
  "spec": {
    "width": 210,
    "height": 148,
    "resolve": {"axis": {"x": "independent", "y": "independent"}},
    "layer": [
      {
        "mark": {"type": "bar", "width": 3.8, "fillOpacity": 0.3},
        "encoding": {
          "x": {
            "field": "x", "type": "quantitative",
            "scale": {"domain": [-2.763, 2.763], "nice": false, "zero": false},
            "axis": {"title": null, "orient": "bottom", "labelPadding": 5, "values": [-2, -1, 0, 1, 2], "format": "d", "gridWidth": 1.1}
          },
          "y": {
            "field": "h1", "type": "quantitative",
            "scale": {"domain": [-0.107, 2.24], "nice": false, "zero": false},
            "axis": {"title": null, "orient": "left", "labelPadding": 7, "values": [0, 0.5, 1, 1.5, 2], "format": ".1f", "gridWidth": 1.1}
          },
          "y2": {"datum": 0},
          "color": {
            "datum": "OmB bc", "type": "nominal",
            "scale": {"domain": ["OmB bc", "OmB nobc"], "range": ["#440154", "#FDE725"]},
            "legend": {
              "title": null, "orient": "none", "direction": "horizontal", "legendX": 241, "legendY": 361,
              "symbolType": "square", "symbolSize": 484, "symbolStrokeWidth": 0, "symbolOpacity": 1,
              "labelFontSize": 11, "labelColor": "#000000", "labelOffset": 8, "columnPadding": 11
            }
          }
        }
      },
      {
        "mark": {"type": "bar", "width": 3.8, "fillOpacity": 0.3},
        "encoding": {
          "x": {"field": "x", "type": "quantitative", "axis": {"title": null, "orient": "top", "labels": false, "values": [-2.5, -1.5, -0.5, 0.5, 1.5, 2.5], "gridWidth": 0.6}},
          "y": {"field": "h2", "type": "quantitative", "axis": {"title": null, "orient": "right", "labels": false, "values": [0.25, 0.75, 1.25, 1.75], "gridWidth": 0.6}},
          "y2": {"datum": 0},
          "color": {"datum": "OmB nobc", "type": "nominal"}
        }
      },
      {
        "mark": {"type": "line", "interpolate": "monotone", "strokeWidth": 1.5},
        "encoding": {
          "x": {"field": "x", "type": "quantitative", "axis": null},
          "y": {"field": "d2", "type": "quantitative", "axis": null},
          "color": {"datum": "OmB nobc", "type": "nominal"}
        }
      },
      {
        "mark": {"type": "line", "interpolate": "monotone", "strokeWidth": 1.5},
        "encoding": {
          "x": {"field": "x", "type": "quantitative", "axis": null},
          "y": {"field": "d1", "type": "quantitative", "axis": null},
          "color": {"datum": "OmB bc", "type": "nominal"}
        }
      },
      {
        "transform": [{"aggregate": [{"op": "count", "as": "n"}], "groupby": ["p"]}],
        "mark": {"type": "rule", "color": "#5a5a5a", "strokeWidth": 1.1},
        "encoding": {"x": {"datum": 0, "axis": null}}
      }
    ]
  },
  "config": {
    "font": "Liberation Sans",
    "view": {"stroke": null},
    "locale": {"number": {"decimal": ".", "thousands": ",", "grouping": [3], "currency": ["$", ""], "minus": "-"}},
    "axis": {
      "domain": false, "ticks": false, "gridColor": "#ebebeb", "labelOverlap": false,
      "labelFontSize": 11, "labelColor": "#4d4d4d"
    }
  }
}
